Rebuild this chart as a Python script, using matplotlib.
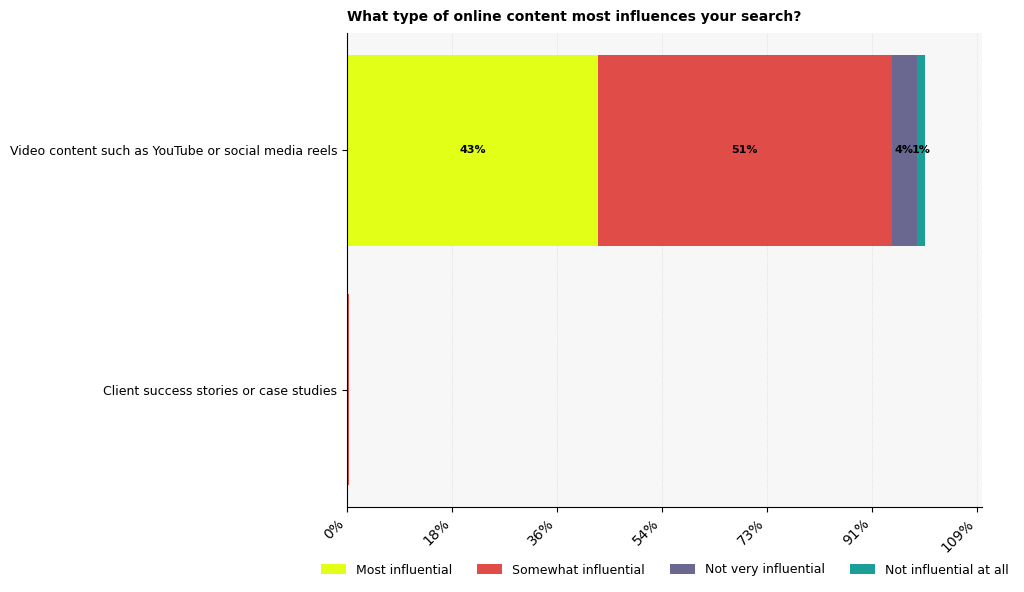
import matplotlib
matplotlib.use("Agg")
import matplotlib.pyplot as plt
import numpy as np

categories = ["Client success stories or case studies",
              "Video content such as YouTube or social media reels"]
series_names = ["Most influential", "Somewhat influential",
                "Not very influential", "Not influential at all"]
most = [0.0, 43.4]
somewhat = [0.3, 50.9]
not_very = [0.0, 4.3]
not_at_all = [0.0, 1.4]
colors = ["#e2ff17", "#e04d49", "#6a6891", "#1b9e97"]

fig = plt.figure(figsize=(10.24, 5.92), dpi=100)
ax = fig.add_axes([347/1024, 1 - 507/592, (982-347)/1024, (507-33)/592])
ax.set_facecolor("#f7f7f7")

y = np.arange(len(categories))
left = np.zeros(len(categories))
for name, vals, c in zip(series_names, [most, somewhat, not_very, not_at_all], colors):
    vals = np.array(vals)
    ax.barh(y, vals, left=left, height=0.8, color=c, label=name, zorder=2)
    for yi, v, l in zip(y, vals, left):
        if v >= 1:
            ax.text(l + v/2, yi, f"{v:.0f}%", ha="center", va="center",
                    fontsize=8, fontweight="bold", zorder=3)
    left = left + vals

xmax = 109.9
ticks = np.linspace(0, 109, 7)
ax.set_xlim(0, xmax)
ax.set_ylim(-0.49, 1.49)
ax.set_xticks(ticks)
ax.set_xticklabels([f"{t:.0f}%" for t in ticks], rotation=45, ha="right",
                   fontsize=10)
ax.set_yticks(y)
ax.set_yticklabels(categories, fontsize=9)
ax.grid(axis="x", linestyle=":", color="#d8d8d8", linewidth=0.6, zorder=0)
ax.set_axisbelow(True)
for s in ["top", "right"]:
    ax.spines[s].set_visible(False)

ax.set_title("What type of online content most influences your search?",
             loc="left", fontsize=10, fontweight="bold", pad=9)

fig.legend(loc="center", bbox_to_anchor=(665/1024, 1 - 570/592), ncol=4,
           frameon=False, fontsize=9, handlelength=2.0, handleheight=0.8,
           columnspacing=2.0)

fig.savefig("out.png", dpi=100)
